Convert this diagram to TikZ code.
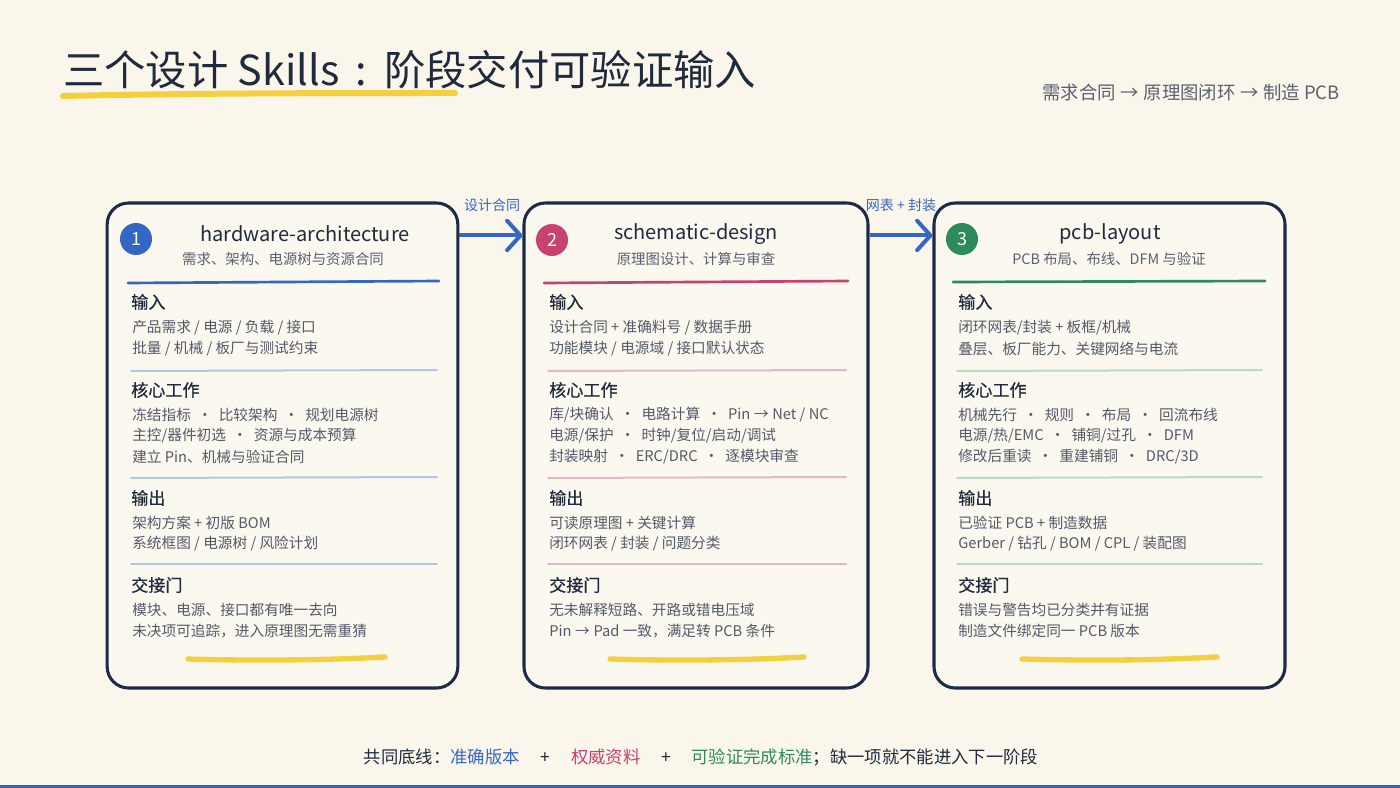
\documentclass[tikz,border=0pt]{standalone}
\usepackage{fontspec}
\setmainfont{Noto Sans CJK SC}
\newfontfamily\headfont[FakeBold=0.6]{Noto Sans CJK SC}
\usetikzlibrary{arrows.meta,calc}
\definecolor{bg}{HTML}{FAF6EC}
\definecolor{cardbg}{HTML}{FBF8F0}
\definecolor{navy}{HTML}{1D2B48}
\definecolor{ink}{HTML}{1F2A3C}
\definecolor{subgray}{HTML}{5A6070}
\definecolor{bodygray}{HTML}{535968}
\definecolor{cblue}{HTML}{3566C6}
\definecolor{cmag}{HTML}{C9416F}
\definecolor{cgreen}{HTML}{2E8A5C}
\definecolor{lblue}{HTML}{B4C6E8}
\definecolor{lpink}{HTML}{E8B6CA}
\definecolor{lgreen}{HTML}{B6DCC6}
\definecolor{hlyellow}{HTML}{F4CF3E}
\newcommand\mydot{\hspace{0.45em}•\hspace{0.45em}}
\newcommand\myarr{\hspace{0.25em}→\hspace{0.25em}}
\begin{document}
\begin{tikzpicture}[x=0.75pt,y=-0.75pt,
  card/.style={draw=navy,line width=2.3pt,rounded corners=16pt,fill=cardbg,inner sep=0pt},
  badge/.style={circle,minimum size=24pt,inner sep=0pt,text=white,font=\fontsize{13.5pt}{15pt}\selectfont},
  ctitle/.style={font=\fontsize{15pt}{18pt}\selectfont,text=ink,inner sep=0pt},
  csub/.style={font=\fontsize{10.8pt}{12pt}\selectfont,text=subgray,inner sep=0pt},
  sechead/.style={anchor=west,font=\headfont\fontsize{12.8pt}{14pt}\selectfont,text=ink,inner sep=0pt},
  body/.style={anchor=west,font=\fontsize{11pt}{13pt}\selectfont,text=bodygray,inner sep=0pt},
  flow/.style={draw=cblue,line width=3pt,-{Straight Barb[length=10pt,width=22pt,round]}},
  flowlabel/.style={font=\fontsize{10.5pt}{12pt}\selectfont,text=cblue,inner sep=0pt},
  rule/.style={line width=2pt,line cap=round},
  sepline/.style={line width=1.5pt,line cap=round},
  hl/.style={draw=hlyellow,line width=4pt,line cap=round}
]
\useasboundingbox (0,0) rectangle (1400,788);
\fill[bg] (0,0) rectangle (1400,788);
\fill[cblue] (0,785) rectangle (1400,788);

% title
\node[anchor=west,inner sep=0pt,text=ink,font=\fontsize{31pt}{36pt}\selectfont] (title) at (63,70) {三个设计 Skills\hspace{0.4em}:\hspace{0.4em}阶段交付可验证输入};
\draw[hl,line width=4.5pt] (63,96) .. controls (200,93) and (350,93) .. (455,93);
\node[anchor=east,inner sep=0pt,text=subgray,font=\fontsize{13.8pt}{16pt}\selectfont] (flowtxt) at (1340,93) {需求合同\myarr 原理图闭环\myarr 制造 PCB};

% cards
\node[card,minimum width=263pt,minimum height=363.75pt] (c1) at (282.5,445.5) {};
\node[card,minimum width=258pt,minimum height=363.75pt] (c2) at (696,445.5) {};
\node[card,minimum width=263.25pt,minimum height=363.75pt] (c3) at (1109.5,445.5) {};

% arrows
\coordinate (a1s) at ($(c1.north east)+(0,34)$);
\coordinate (a1e) at ($(c2.north west)+(0,34)$);
\coordinate (a2s) at ($(c2.north east)+(0,34)$);
\coordinate (a2e) at ($(c3.north west)+(0,34)$);
\draw[flow] (a1s) -- (a1e);
\draw[flow] (a2s) -- (a2e);
\node[flowlabel] (l1) at (492,205) {设计合同};
\node[flowlabel] (l2) at (901,205) {网表 + 封装};

% ---------- card 1 ----------
\node[badge,fill=cblue] (b1) at (136,239) {1};
\node[ctitle] (t1) at (305,234) {hardware-architecture};
\node[csub] (s1) at (283,259) {需求、架构、电源树与资源合同};
\draw[rule,cblue] (128,283) -- (439,281);
\node[sechead] (c1h1) at (131,302) {输入};
\node[body] (c1a) at (132,328) {产品需求 / 电源 / 负载 / 接口};
\node[body] (c1b) at (132,349) {批量 / 机械 / 板厂与测试约束};
\draw[sepline,lblue] (131,371) -- (437,370);
\node[sechead] (c1h2) at (131,390) {核心工作};
\node[body] (c1c) at (132,415) {冻结指标\mydot 比较架构\mydot 规划电源树};
\node[body] (c1d) at (132,436) {主控/器件初选\mydot 资源与成本预算};
\node[body] (c1e) at (132,457) {建立 Pin、机械与验证合同};
\draw[sepline,lblue] (131,478) -- (437,477);
\node[sechead] (c1h3) at (131,498) {输出};
\node[body] (c1f) at (132,523) {架构方案 + 初版 BOM};
\node[body] (c1g) at (132,544) {系统框图 / 电源树 / 风险计划};
\draw[sepline,lblue] (131,564) -- (437,564);
\node[sechead] (c1h4) at (131,585) {交接门};
\node[body] (c1i) at (132,610) {模块、电源、接口都有唯一去向};
\node[body] (c1j) at (132,631) {未决项可追踪，进入原理图无需重猜};
\draw[hl] (188,659) .. controls (260,661) and (330,660) .. (385,657);

% ---------- card 2 ----------
\node[badge,fill=cmag] (b2) at (552,240) {2};
\node[ctitle] (t2) at (696,234) {schematic-design};
\node[csub] (s2) at (696,259) {原理图设计、计算与审查};
\draw[rule,cmag] (544,283) -- (848,281);
\node[sechead] (c2h1) at (549,302) {输入};
\node[body] (c2a) at (549,328) {设计合同 + 准确料号 / 数据手册};
\node[body] (c2b) at (549,349) {功能模块 / 电源域 / 接口默认状态};
\draw[sepline,lpink] (548,371) -- (846,370);
\node[sechead] (c2h2) at (549,390) {核心工作};
\node[body] (c2c) at (549,415) {库/块确认\mydot 电路计算\mydot Pin\myarr Net / NC};
\node[body] (c2d) at (549,436) {电源/保护\mydot 时钟/复位/启动/调试};
\node[body] (c2e) at (549,457) {封装映射\mydot ERC/DRC\mydot 逐模块审查};
\draw[sepline,lpink] (548,478) -- (846,477);
\node[sechead] (c2h3) at (549,498) {输出};
\node[body] (c2f) at (549,523) {可读原理图 + 关键计算};
\node[body] (c2g) at (549,544) {闭环网表 / 封装 / 问题分类};
\draw[sepline,lpink] (548,564) -- (846,564);
\node[sechead] (c2h4) at (549,585) {交接门};
\node[body] (c2i) at (549,610) {无未解释短路、开路或错电压域};
\node[body] (c2j) at (549,631) {Pin\myarr Pad 一致，满足转 PCB 条件};
\draw[hl] (610,659) .. controls (680,661) and (750,660) .. (804,657);

% ---------- card 3 ----------
\node[badge,fill=cgreen] (b3) at (962,239) {3};
\node[ctitle] (t3) at (1110,234) {pcb-layout};
\node[csub] (s3) at (1109,259) {PCB 布局、布线、DFM 与验证};
\draw[rule,cgreen] (953,282) -- (1265,281);
\node[sechead] (c3h1) at (958,302) {输入};
\node[body] (c3a) at (958,328) {闭环网表/封装 + 板框/机械};
\node[body] (c3b) at (958,349) {叠层、板厂能力、关键网络与电流};
\draw[sepline,lgreen] (957,371) -- (1262,370);
\node[sechead] (c3h2) at (958,390) {核心工作};
\node[body] (c3c) at (958,415) {机械先行\mydot 规则\mydot 布局\mydot 回流布线};
\node[body] (c3d) at (958,436) {电源/热/EMC\mydot 铺铜/过孔\mydot DFM};
\node[body] (c3e) at (958,457) {修改后重读\mydot 重建铺铜\mydot DRC/3D};
\draw[sepline,lgreen] (957,478) -- (1262,477);
\node[sechead] (c3h3) at (958,498) {输出};
\node[body] (c3f) at (958,523) {已验证 PCB + 制造数据};
\node[body] (c3g) at (958,544) {Gerber / 钻孔 / BOM / CPL / 装配图};
\draw[sepline,lgreen] (957,564) -- (1262,564);
\node[sechead] (c3h4) at (958,585) {交接门};
\node[body] (c3i) at (958,610) {错误与警告均已分类并有证据};
\node[body] (c3j) at (958,631) {制造文件绑定同一 PCB 版本};
\draw[hl] (1022,659) .. controls (1100,661) and (1160,660) .. (1217,657);

% footer
\node[inner sep=0pt,text=ink,font=\fontsize{13pt}{15pt}\selectfont] (footer) at (701,758)
  {共同底线：\textcolor{cblue}{准确版本}\hspace{1.2em}+\hspace{1.2em}\textcolor{cmag}{权威资料}\hspace{1.2em}+\hspace{1.2em}\textcolor{cgreen}{可验证完成标准}；缺一项就不能进入下一阶段};
\end{tikzpicture}
\end{document}
